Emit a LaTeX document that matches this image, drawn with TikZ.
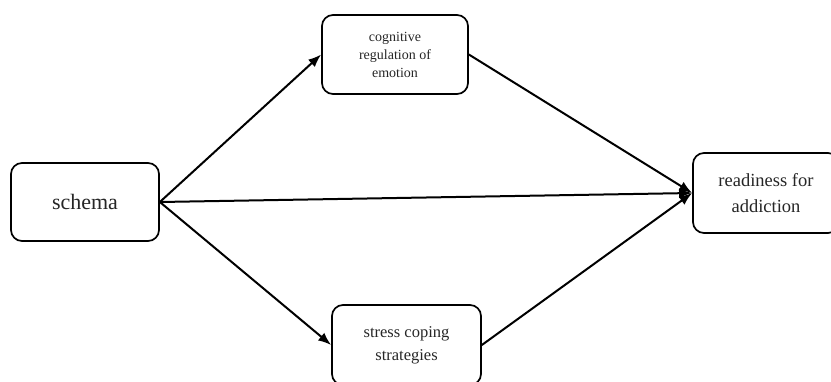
\documentclass[tikz,border=0pt]{standalone}
\usepackage{fontspec}
\setmainfont{Liberation Serif}
\usetikzlibrary{arrows.meta}
\begin{document}
\begin{tikzpicture}[x=1pt,y=-1pt,
  box/.style={draw=black,line width=1.7pt,rounded corners=11pt,align=center,text=black!85,inner sep=0pt},
  conn/.style={line width=2pt,-{Latex[length=13pt,width=10pt]}}]
\useasboundingbox (0,0) rectangle (831,381);
\clip (0,0) rectangle (831,381);
\node[box,minimum width=148pt,minimum height=78pt,font=\fontsize{22}{26}\selectfont] (s) at (85,202) {schema};
\node[box,minimum width=146pt,minimum height=79pt,font=\fontsize{14}{18}\selectfont] (c) at (395,54.5) {cognitive\\regulation of\\emotion};
\node[box,minimum width=146pt,minimum height=80pt,font=\fontsize{18.5}{26}\selectfont] (r) at (766,193) {readiness for\\addiction};
\node[box,minimum width=149pt,minimum height=80pt,font=\fontsize{16.5}{23}\selectfont] (st) at (406.5,345) {stress coping\\strategies};
\draw[conn] (s.east) -- (c.west);
\draw[conn] (s.east) -- (st.west);
\draw[conn] (s.east) -- (r.west);
\draw[conn] (c.east) -- (r.west);
\draw[conn] (st.east) -- (r.west);
\end{tikzpicture}
\end{document}
